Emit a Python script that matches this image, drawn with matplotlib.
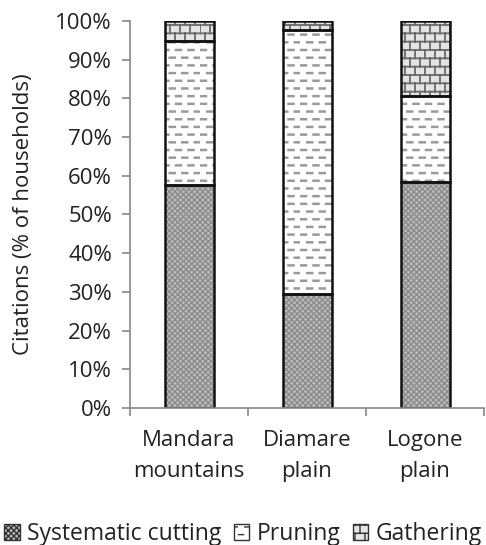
import matplotlib
matplotlib.use("Agg")
import matplotlib.pyplot as plt
import matplotlib.hatch as mhatch
from matplotlib.path import Path
from matplotlib.patches import Patch
import numpy as np
import warnings
warnings.filterwarnings("ignore")

categories = ["Mandara\nmountains", "Diamare\nplain", "Logone\nplain"]
systematic = [57.7, 29.5, 58.5]
pruning = [37.0, 68.1, 22.0]
gathering = [5.3, 2.4, 19.5]
series_names = ["Systematic cutting", "Pruning", "Gathering"]
yticks = [0, 10, 20, 30, 40, 50, 60, 70, 80, 90, 100]


class DashHatch(mhatch.HatchPatternBase):
    rows, per_row, dash = 13, 8, 0.05

    def __init__(self, hatch, density):
        self.on = 'd' in hatch
        self.num_vertices = self.rows * self.per_row * 2 if self.on else 0

    def set_vertices_and_codes(self, vertices, codes):
        k = 0
        for r in range(self.rows):
            y = (r + 0.5) / self.rows
            off = 0.0 if r % 2 == 0 else 0.5 / self.per_row
            for c in range(self.per_row):
                x0 = c / self.per_row + off + 0.01
                vertices[k] = (x0, y)
                vertices[k + 1] = (x0 + self.dash, y)
                codes[k] = Path.MOVETO
                codes[k + 1] = Path.LINETO
                k += 2


class BrickHatch(mhatch.HatchPatternBase):
    rows, per_row = 12, 10

    def __init__(self, hatch, density):
        self.on = 'b' in hatch
        self.num_vertices = (self.rows * 2 + self.rows * self.per_row * 2) if self.on else 0

    def set_vertices_and_codes(self, vertices, codes):
        k = 0
        for r in range(self.rows):
            y = r / self.rows
            vertices[k] = (0, y)
            vertices[k + 1] = (1, y)
            codes[k] = Path.MOVETO
            codes[k + 1] = Path.LINETO
            k += 2
        for r in range(self.rows):
            y0 = r / self.rows
            y1 = (r + 1) / self.rows
            off = 0.0 if r % 2 == 0 else 0.5 / self.per_row
            for c in range(self.per_row):
                x = c / self.per_row + off
                vertices[k] = (x, y0)
                vertices[k + 1] = (x, y1)
                codes[k] = Path.MOVETO
                codes[k + 1] = Path.LINETO
                k += 2


mhatch._hatch_types.append(DashHatch)
mhatch._hatch_types.append(BrickHatch)

plt.rcParams['font.family'] = ['Open Sans', 'DejaVu Sans']

fig = plt.figure(figsize=(4.86, 5.45), dpi=100)
ax = fig.add_axes([0.2675, 0.2514, 0.7285, 0.7101])

x = np.arange(len(categories))
w = 0.415
styles = [
    dict(face='#bdbdbd', hatch='xxxxxx', hcol='#8c8c8c', lw=1.0),
    dict(face='white', hatch='d', hcol='#9a9a9a', lw=1.8),
    dict(face='#e4e4e4', hatch='b', hcol='#6a6a6a', lw=1.3),
]
bottom = np.zeros(len(categories))
for vals, st in zip([systematic, pruning, gathering], styles):
    vals = np.array(vals)
    plt.rcParams['hatch.linewidth'] = st['lw']
    ax.bar(x, vals, w, bottom=bottom, color=st['face'], hatch=st['hatch'],
           edgecolor=st['hcol'], linewidth=0)
    bottom += vals

bottom = np.zeros(len(categories))
for vals in [systematic, pruning, gathering]:
    vals = np.array(vals)
    ax.bar(x, vals, w, bottom=bottom, fill=False, edgecolor='#111111', linewidth=1.8)
    bottom += vals

FS = 16
ax.set_xlim(-0.5, 2.5)
ax.set_ylim(0, 100)
ax.set_yticks(yticks)
ax.set_yticklabels([f"{t}%" for t in yticks], fontsize=FS, color='#222222')
ax.set_xticks(x)
ax.set_xticklabels(categories, fontsize=FS, color='#222222', linespacing=1.6)
ax.tick_params(axis='x', which='major', length=0, pad=16)
ax.set_xticks([-0.5, 0.5, 1.5, 2.5], minor=True)
ax.tick_params(axis='x', which='minor', length=6, color='#888888', width=1.2)
ax.tick_params(axis='y', length=6, color='#888888', width=1.2, pad=7)
for s in ['top', 'right']:
    ax.spines[s].set_visible(False)
for s in ['left', 'bottom']:
    ax.spines[s].set_color('#888888')
    ax.spines[s].set_linewidth(1.2)
ax.set_ylabel("Citations (% of households)", fontsize=FS, color='#222222')
ax.yaxis.set_label_coords(-0.271, 0.5)

leg_handles = []
for st in styles:
    leg_handles.append(Patch(facecolor=st['face'], hatch=st['hatch'], edgecolor='#333333',
                             linewidth=1.0))
plt.rcParams['hatch.linewidth'] = 1.0
leg = fig.legend(leg_handles, series_names, loc='center', bbox_to_anchor=(0.5, 0.02), ncol=3,
                 frameon=False, fontsize=16.5, handlelength=0.68, handleheight=0.68,
                 handletextpad=0.3, columnspacing=0.55, borderaxespad=0)
for t in leg.get_texts():
    t.set_color('#222222')

fig.savefig("out.png", dpi=100)
